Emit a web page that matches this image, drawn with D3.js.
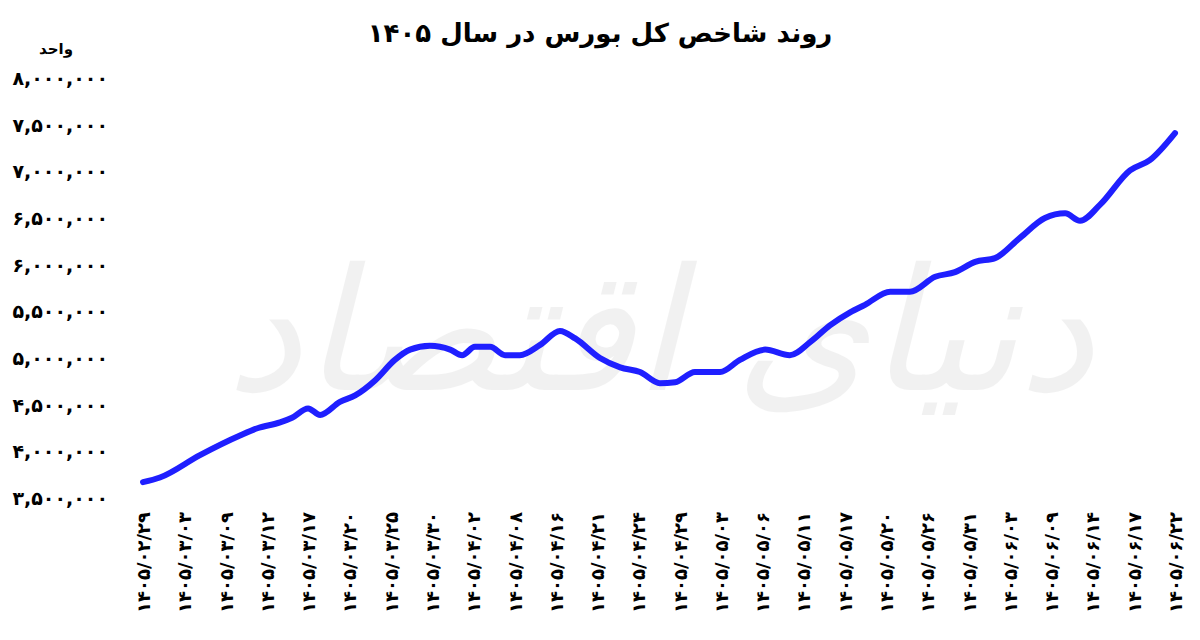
<!DOCTYPE html>
<html><head><meta charset="utf-8">
<script src="https://cdn.jsdelivr.net/npm/d3@7"></script>
<style>body{margin:0;background:#fff}svg{display:block}text{font-family:"DejaVu Sans","Noto Sans",sans-serif}</style>
</head><body><svg id="c" width="1200" height="640"></svg>
<script>
const title = "روند شاخص کل بورس در سال ۱۴۰۵";
const unit = "واحد";
const dateLabels = ["1405/02/29","1405/03/03","1405/03/09","1405/03/12","1405/03/17","1405/03/20","1405/03/25","1405/03/30","1405/04/02","1405/04/08","1405/04/16","1405/04/21","1405/04/24","1405/04/29","1405/05/03","1405/05/06","1405/05/11","1405/05/17","1405/05/20","1405/05/26","1405/05/31","1405/06/03","1405/06/09","1405/06/14","1405/06/17","1405/06/22"];
const yTicks = [3500000,4000000,4500000,5000000,5500000,6000000,6500000,7000000,7500000,8000000];
const pointPos = [0,0.41,1.38,2.35,2.79,3.32,3.61,4.0,4.29,4.77,5.14,5.62,6.10,6.47,6.95,7.44,7.73,8.04,8.41,8.77,9.13,9.62,10.10,10.47,11.07,11.56,12.04,12.52,12.89,13.37,13.98,14.46,15.07,15.67,16.16,16.64,17.13,17.49,18.10,18.58,19.19,19.67,20.16,20.64,21.25,21.85,22.34,22.70,23.18,23.91,24.39,25.0];
const pointVal = [3.67,3.72,3.96,4.17,4.25,4.31,4.36,4.46,4.39,4.53,4.60,4.76,4.98,5.09,5.13,5.09,5.03,5.12,5.12,5.03,5.03,5.14,5.29,5.21,5.00,4.90,4.85,4.73,4.74,4.85,4.85,4.98,5.09,5.03,5.17,5.35,5.49,5.57,5.71,5.71,5.87,5.92,6.03,6.07,6.29,6.50,6.55,6.47,6.64,7.01,7.12,7.41].map(v=>v*1e6);

const fa = s => String(s).replace(/\d/g, d => "۰۱۲۳۴۵۶۷۸۹"[d]);
const svg = d3.select("#c");
const x = d3.scaleLinear().domain([0,25]).range([143,1175]);
const y = d3.scaleLinear().domain([3500000,8000000]).range([498,78]);

svg.append("text").attr("x",600).attr("y",42).attr("text-anchor","middle").attr("font-size",26).attr("font-weight","bold").attr("direction","rtl").text(title);
svg.append("text").attr("x",56).attr("y",54).attr("text-anchor","middle").attr("font-size",15).attr("font-weight","bold").attr("direction","rtl").text(unit);
svg.append("text").attr("x",660).attr("y",390).attr("text-anchor","middle").attr("font-size",170).attr("fill","#000").attr("opacity",0.05).attr("direction","rtl").attr("font-style","italic").text("دنیای اقتصاد");

svg.selectAll(".yt").data(yTicks).join("text").attr("x",108).attr("y",d=>y(d)+7).attr("text-anchor","end")
  .attr("font-size",19).attr("font-weight","bold").attr("direction","ltr").text(d=>fa(d3.format(",")(d)));

svg.selectAll(".xt").data(dateLabels).join("text")
  .attr("transform",(d,i)=>`translate(${x(i)+7},512) rotate(-90)`).attr("text-anchor","end")
  .attr("font-size",18).attr("font-weight","bold").attr("direction","ltr").text(d=>fa(d));

const line = d3.line().x((d,i)=>x(pointPos[i])).y(d=>y(d)).curve(d3.curveMonotoneX);
svg.append("path").datum(pointVal).attr("d",line).attr("fill","none").attr("stroke","#1f1fff").attr("stroke-width",6).attr("stroke-linecap","round");
</script></body></html>
